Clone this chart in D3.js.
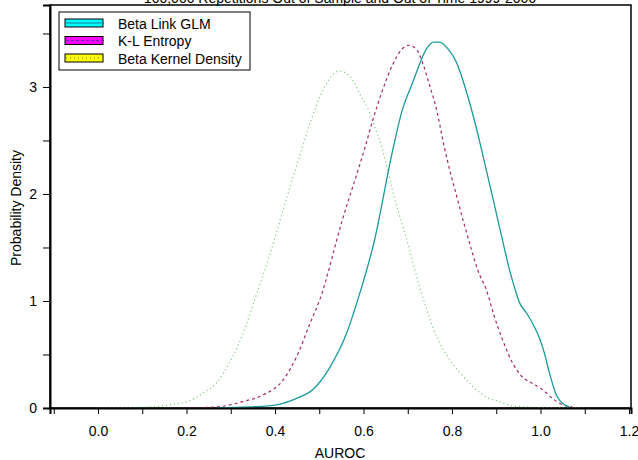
<!DOCTYPE html>
<html>
<head>
<meta charset="utf-8">
<script src="https://cdn.jsdelivr.net/npm/d3@7"></script>
<style>
  body { margin: 0; background: #fff; }
  text { font-family: "Liberation Sans", Arial, sans-serif; }
</style>
</head>
<body>
<div id="chart"></div>
<script>
// Data: AUROC values and densities per series
var glmX = [0.269, 0.343, 0.404, 0.449, 0.485, 0.524, 0.562, 0.587, 0.625, 0.666, 0.688, 0.711, 0.743, 0.758, 0.772, 0.790, 0.810, 0.824, 0.840, 0.856, 0.867, 0.893, 0.919, 0.930, 0.941, 0.953, 0.968, 0.986, 0.998, 1.009, 1.020, 1.036, 1.054, 1.065];
var glmY = [0, 0.01, 0.03, 0.09, 0.17, 0.38, 0.70, 1.01, 1.57, 2.41, 2.79, 3.04, 3.36, 3.42, 3.42, 3.36, 3.23, 3.07, 2.85, 2.60, 2.41, 1.95, 1.48, 1.29, 1.13, 0.98, 0.89, 0.76, 0.65, 0.51, 0.33, 0.12, 0.03, 0.01];

var klX = [0.201, 0.269, 0.327, 0.372, 0.418, 0.449, 0.479, 0.501, 0.551, 0.603, 0.621, 0.643, 0.666, 0.686, 0.702, 0.720, 0.734, 0.749, 0.765, 0.783, 0.813, 0.844, 0.858, 0.878, 0.896, 0.914, 0.937, 0.959, 0.982, 1.005, 1.027, 1.050, 1.072];
var klY = [0, 0.01, 0.06, 0.12, 0.26, 0.48, 0.79, 1.01, 1.74, 2.43, 2.69, 2.97, 3.21, 3.35, 3.39, 3.35, 3.22, 3.02, 2.79, 2.43, 1.94, 1.48, 1.29, 1.10, 0.85, 0.64, 0.42, 0.29, 0.23, 0.17, 0.09, 0.03, 0.01];

var kernX = [0.0, 0.117, 0.163, 0.208, 0.237, 0.269, 0.291, 0.314, 0.336, 0.354, 0.388, 0.422, 0.456, 0.490, 0.519, 0.546, 0.573, 0.591, 0.614, 0.625, 0.641, 0.670, 0.704, 0.716, 0.727, 0.743, 0.756, 0.777, 0.795, 0.822, 0.847, 0.878, 0.907, 0.937, 0.968, 1.1];
var kernY = [0, 0.01, 0.03, 0.07, 0.14, 0.24, 0.38, 0.56, 0.79, 1.01, 1.43, 1.90, 2.36, 2.79, 3.05, 3.15, 3.08, 2.94, 2.76, 2.63, 2.44, 1.96, 1.48, 1.29, 1.13, 0.92, 0.76, 0.57, 0.45, 0.31, 0.20, 0.10, 0.06, 0.02, 0.01, 0];

var seriesNames = ['Beta Link GLM', 'K-L Entropy', 'Beta Kernel Density'];
var xTicks = [-0.1, 0.0, 0.1, 0.2, 0.3, 0.4, 0.5, 0.6, 0.7, 0.8, 0.9, 1.0, 1.1, 1.2];
var yTicks = [0, 0.5, 1, 1.5, 2, 2.5, 3, 3.5];

var W = 638, H = 460;
var mLeft = 50, mRight = 631, mTop = 5, mBottom = 408;

var svg = d3.select('#chart').append('svg')
  .attr('width', W)
  .attr('height', H);

var x = d3.scaleLinear().domain([-0.1085, 1.2045]).range([mLeft, mRight]);
var y = d3.scaleLinear().domain([0, 3.766]).range([mBottom, mTop]);

// title, mostly off the top edge
svg.append('text')
  .attr('x', 340).attr('y', 3)
  .attr('text-anchor', 'middle')
  .style('font-size', '14px')
  .text('100,000 Repetitions Out of Sample and Out of Time 1999-2006');

// frame
svg.append('rect')
  .attr('x', mLeft).attr('y', mTop)
  .attr('width', mRight - mLeft).attr('height', mBottom - mTop)
  .attr('fill', 'none').attr('stroke', '#000').attr('stroke-width', 1.5);

// curves
var series = [
  { xs: glmX, ys: glmY, color: '#1a9a9a', dash: null, width: 1.3 },
  { xs: klX, ys: klY, color: '#a3286e', dash: '3,3', width: 1.2 },
  { xs: kernX, ys: kernY, color: '#6cc06c', dash: '1,3', width: 1.2 }
];

var line = d3.line()
  .x(function (d) { return x(d[0]); })
  .y(function (d) { return y(d[1]); })
  .curve(d3.curveMonotoneX);

// draw kernel first so GLM sits on top
series.slice().reverse().forEach(function (s) {
  svg.append('path')
    .datum(d3.zip(s.xs, s.ys))
    .attr('d', line)
    .attr('fill', 'none')
    .attr('stroke', s.color)
    .attr('stroke-width', s.width)
    .attr('stroke-dasharray', s.dash);
});

// axes
var xAxis = svg.append('g')
  .attr('transform', 'translate(0,' + mBottom + ')')
  .call(d3.axisBottom(x)
    .tickValues(xTicks)
    .tickSize(6)
    .tickPadding(12)
    .tickFormat(function (d) {
      return Math.round(d * 10) % 2 === 0 && d >= 0 ? d3.format('.1f')(d) : '';
    }));

var yAxis = svg.append('g')
  .attr('transform', 'translate(' + mLeft + ',0)')
  .call(d3.axisLeft(y)
    .tickValues(yTicks)
    .tickSize(7)
    .tickPadding(6)
    .tickFormat(function (d) { return d % 1 === 0 ? d : ''; }));

[xAxis, yAxis].forEach(function (g) {
  g.select('.domain').attr('stroke', '#000').attr('stroke-width', 2);
  g.selectAll('.tick line').attr('stroke', '#000');
  g.selectAll('.tick text')
    .attr('fill', '#000')
    .style('font-family', '"Liberation Sans", Arial, sans-serif')
    .style('font-size', '14px');
});

svg.append('text')
  .attr('x', 340).attr('y', 458)
  .attr('text-anchor', 'middle')
  .style('font-size', '14px')
  .text('AUROC');

svg.append('text')
  .attr('transform', 'translate(21,208) rotate(-90)')
  .attr('text-anchor', 'middle')
  .style('font-size', '14px')
  .text('Probability Density');

// legend
var legend = svg.append('g').attr('transform', 'translate(59,12)');
legend.append('rect')
  .attr('width', 191).attr('height', 58)
  .attr('fill', '#fff').attr('stroke', '#000').attr('stroke-width', 1);

var fills = ['#00ffff', '#ff00ff', '#ffff00'];
var legendItems = legend.selectAll('.legendItem')
  .data(seriesNames)
  .enter()
  .append('g')
  .attr('class', 'legendItem')
  .attr('transform', function (d, i) { return 'translate(0,' + (7 + i * 17.5) + ')'; });

legendItems.append('rect')
  .attr('x', 6).attr('y', 0)
  .attr('width', 38).attr('height', 8)
  .attr('fill', function (d, i) { return fills[i]; })
  .attr('stroke', '#000').attr('stroke-width', 1);

legendItems.append('line')
  .attr('x1', 7).attr('x2', 45)
  .attr('y1', 4).attr('y2', 4)
  .attr('stroke', function (d, i) { return i === 0 ? '#1a7a9a' : i === 1 ? '#6a2aa0' : '#666'; })
  .attr('stroke-width', 1.2)
  .attr('stroke-dasharray', function (d, i) { return i === 1 ? '3,2' : i === 2 ? '1,3' : null; });

legendItems.append('text')
  .attr('x', 59).attr('y', 9.5)
  .style('font-size', '14px')
  .text(function (d) { return d; });
</script>
</body>
</html>
